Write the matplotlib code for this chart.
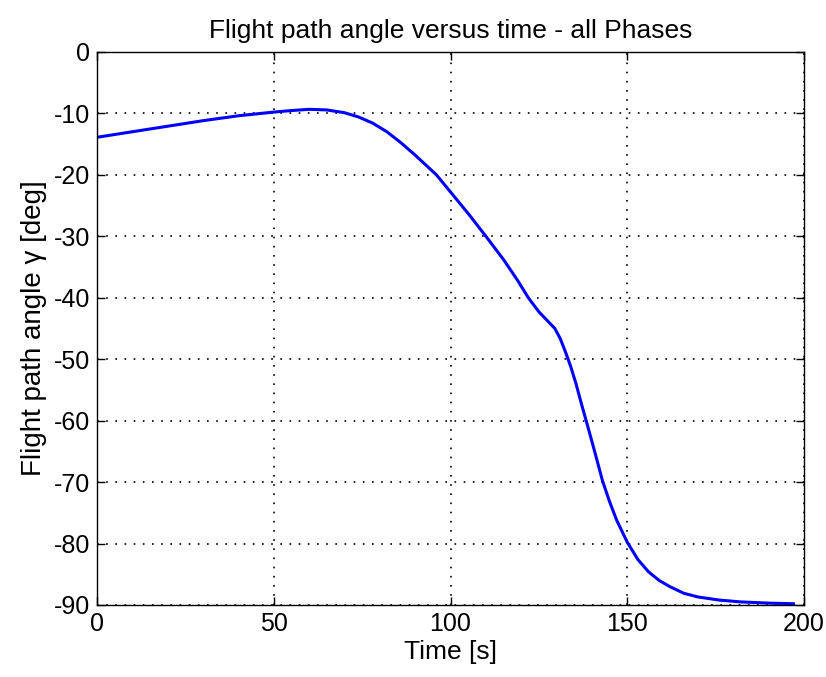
import matplotlib
matplotlib.use("Agg")
import matplotlib.pyplot as plt

# Flight path angle history over all flight phases
time_s = [0, 10, 20, 30, 40, 50, 55, 60, 65, 70, 74, 78, 82, 86, 90, 93, 96,
          100, 105, 110, 115, 119, 122, 125, 127.5, 129.5, 131, 132.5, 134,
          135.5, 137, 139, 141, 143, 145, 147, 150, 153, 156, 159, 162, 166,
          170, 176, 182, 190, 197]
gamma_deg = [-13.9, -13.0, -12.1, -11.2, -10.4, -9.8, -9.55, -9.35, -9.45,
             -9.9, -10.6, -11.6, -13.0, -14.8, -16.8, -18.4, -20.0, -22.8,
             -26.3, -30.0, -33.8, -37.2, -40.0, -42.3, -43.8, -45.0, -46.6,
             -48.8, -51.2, -54.0, -57.2, -61.3, -65.5, -69.8, -73.2, -76.2,
             -79.8, -82.6, -84.6, -86.0, -87.0, -88.1, -88.7, -89.2, -89.5,
             -89.7, -89.8]

x_ticks = [0, 50, 100, 150, 200]
y_ticks = [0, -10, -20, -30, -40, -50, -60, -70, -80, -90]

plt.rcParams['font.family'] = ['Liberation Sans', 'DejaVu Sans']
plt.rcParams['axes.unicode_minus'] = False

fig = plt.figure(figsize=(8.26, 6.77), dpi=100)
ax = fig.add_axes([0.1174, 0.1064, 0.856, 0.817])

ax.plot(time_s, gamma_deg, color='#0000ff', linewidth=2.2)

ax.set_xlim(0, 200)
ax.set_ylim(-90, 0)
ax.set_xticks(x_ticks)
ax.set_yticks(y_ticks)
ax.tick_params(direction='in', length=6, width=1, labelsize=18,
               top=True, right=True, pad=5)
for s in ax.spines.values():
    s.set_linewidth(1.0)

ax.grid(True, color='black', linestyle=(0, (1, 4.5)), linewidth=1.2)

ax.set_title('Flight path angle versus time - all Phases', fontsize=19, pad=10)
ax.set_xlabel('Time [s]', fontsize=19, labelpad=3)
ax.set_ylabel('Flight path angle γ [deg]', fontsize=20, labelpad=5)

fig.savefig('out.png', dpi=100, facecolor='white')
